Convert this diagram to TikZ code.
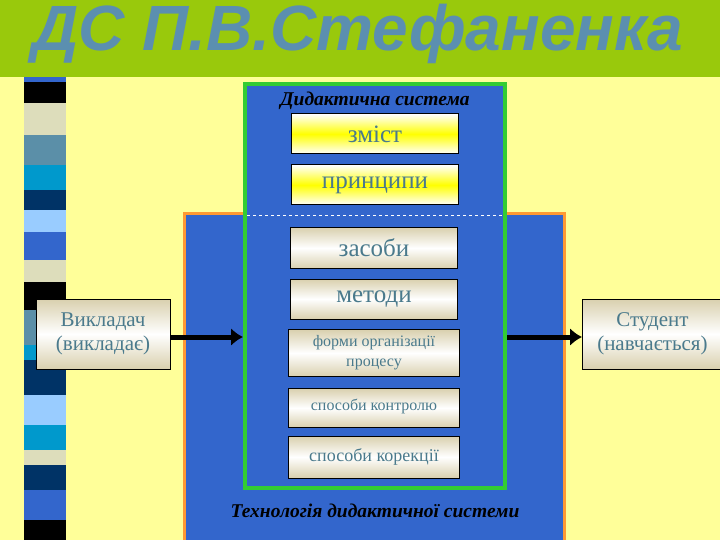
\documentclass[tikz,border=0pt]{standalone}
\usepackage{fontspec}
\setmainfont{Liberation Serif}
\newfontfamily\titlefont{Liberation Sans}
\usetikzlibrary{arrows.meta}
\begin{document}
\begin{tikzpicture}[x=1pt,y=-1pt,
 ybox/.style={draw=black,line width=1pt,top color=white,bottom color=white,middle color=yellow,minimum width=167pt,minimum height=40pt,text=txtc,font=\fontsize{25}{28}\selectfont},
 bbox/.style={draw=black,line width=0.8pt,top color=beige,bottom color=beige,middle color=white,text=txtc,align=center},
 arr/.style={line width=5pt,-{Latex[length=12pt,width=18pt]}}]
\definecolor{bg}{HTML}{FFFF99}
\definecolor{band}{HTML}{99C90C}
\definecolor{ttl}{HTML}{5B8FB0}
\definecolor{blu}{HTML}{3366CC}
\definecolor{grn}{HTML}{33CC33}
\definecolor{org}{HTML}{FF9933}
\definecolor{txtc}{HTML}{4A7A8C}
\definecolor{beige}{HTML}{D9D0AE}
\definecolor{s1}{HTML}{3366CC}\definecolor{s2}{HTML}{000000}\definecolor{s3}{HTML}{DDDDBB}
\definecolor{s4}{HTML}{5B8FA8}\definecolor{s5}{HTML}{0099CC}\definecolor{s6}{HTML}{003366}\definecolor{s7}{HTML}{99CCFF}
\useasboundingbox (0,0) rectangle (720,540);
\fill[bg] (0,0) rectangle (720,540);
\fill[band] (0,0) rectangle (720,77);
\node[text=ttl,font=\titlefont\bfseries\itshape\fontsize{64}{64}\selectfont] (title) at (358,34) {ДС П.В.Стефаненка};
% strip
\foreach \a/\b/\c in {77/82/s1,82/103/s2,103/135/s3,135/165/s4,165/190/s5,190/210/s6,210/232/s7,232/260/s1,260/282/s3,282/310/s2,310/345/s4,345/360/s5,360/395/s6,395/425/s7,425/450/s5,450/465/s3,465/490/s6,490/520/s1,520/540/s2}
 \fill[\c] (24,\a) rectangle (66,\b);
\draw[org,line width=3pt,fill=blu] (184,214) rectangle (564,545);
\draw[grn,line width=4pt,fill=blu] (245,84) rectangle (505,488);
\draw[white,dashed,line width=0.5pt] (247,215) -- (503,215);
\node[font=\bfseries\itshape\fontsize{19.5}{20}\selectfont] (ds) at (375,101) {Дидактична система};
\node[ybox] (zm) at (375,134) {зміст};
\node[ybox] (pr) at (375,185) {принципи};
\node[bbox,minimum width=167pt,minimum height=41pt,font=\fontsize{25}{28}\selectfont] (zs) at (374,248) {засоби};
\node[bbox,minimum width=167pt,minimum height=40pt,font=\fontsize{25}{28}\selectfont] (me) at (374,299) {методи};
\node[bbox,minimum width=171pt,minimum height=47pt,font=\fontsize{16}{20}\selectfont] (fo) at (374,353) {форми організації\\процесу};
\node[bbox,minimum width=171pt,minimum height=39pt,font=\fontsize{16}{18}\selectfont,anchor=north] (sk) at (374,388) {\raisebox{6pt}{способи контролю}};
\node[bbox,minimum width=171pt,minimum height=42pt,font=\fontsize{18}{20}\selectfont] (kr) at (374,457) {способи корекції};
\node[font=\bfseries\itshape\fontsize{19.5}{20}\selectfont] (tech) at (375,511) {Технологія дидактичної системи};
\node[bbox,minimum width=134pt,minimum height=70pt,font=\fontsize{21}{24}\selectfont] (vk) at (103,334) {Викладач\\(викладає)};
\node[bbox,minimum width=140pt,minimum height=70pt,font=\fontsize{21}{24}\selectfont,anchor=west] (st) at (582,334) {Студент\\(навчається)};
\coordinate (g1) at (243,337);
\coordinate (g2) at (507,337);
\draw[arr] (vk.east|-g1) -- (g1);
\draw[arr] (g2) -- (st.west|-g2);
\end{tikzpicture}
\end{document}
